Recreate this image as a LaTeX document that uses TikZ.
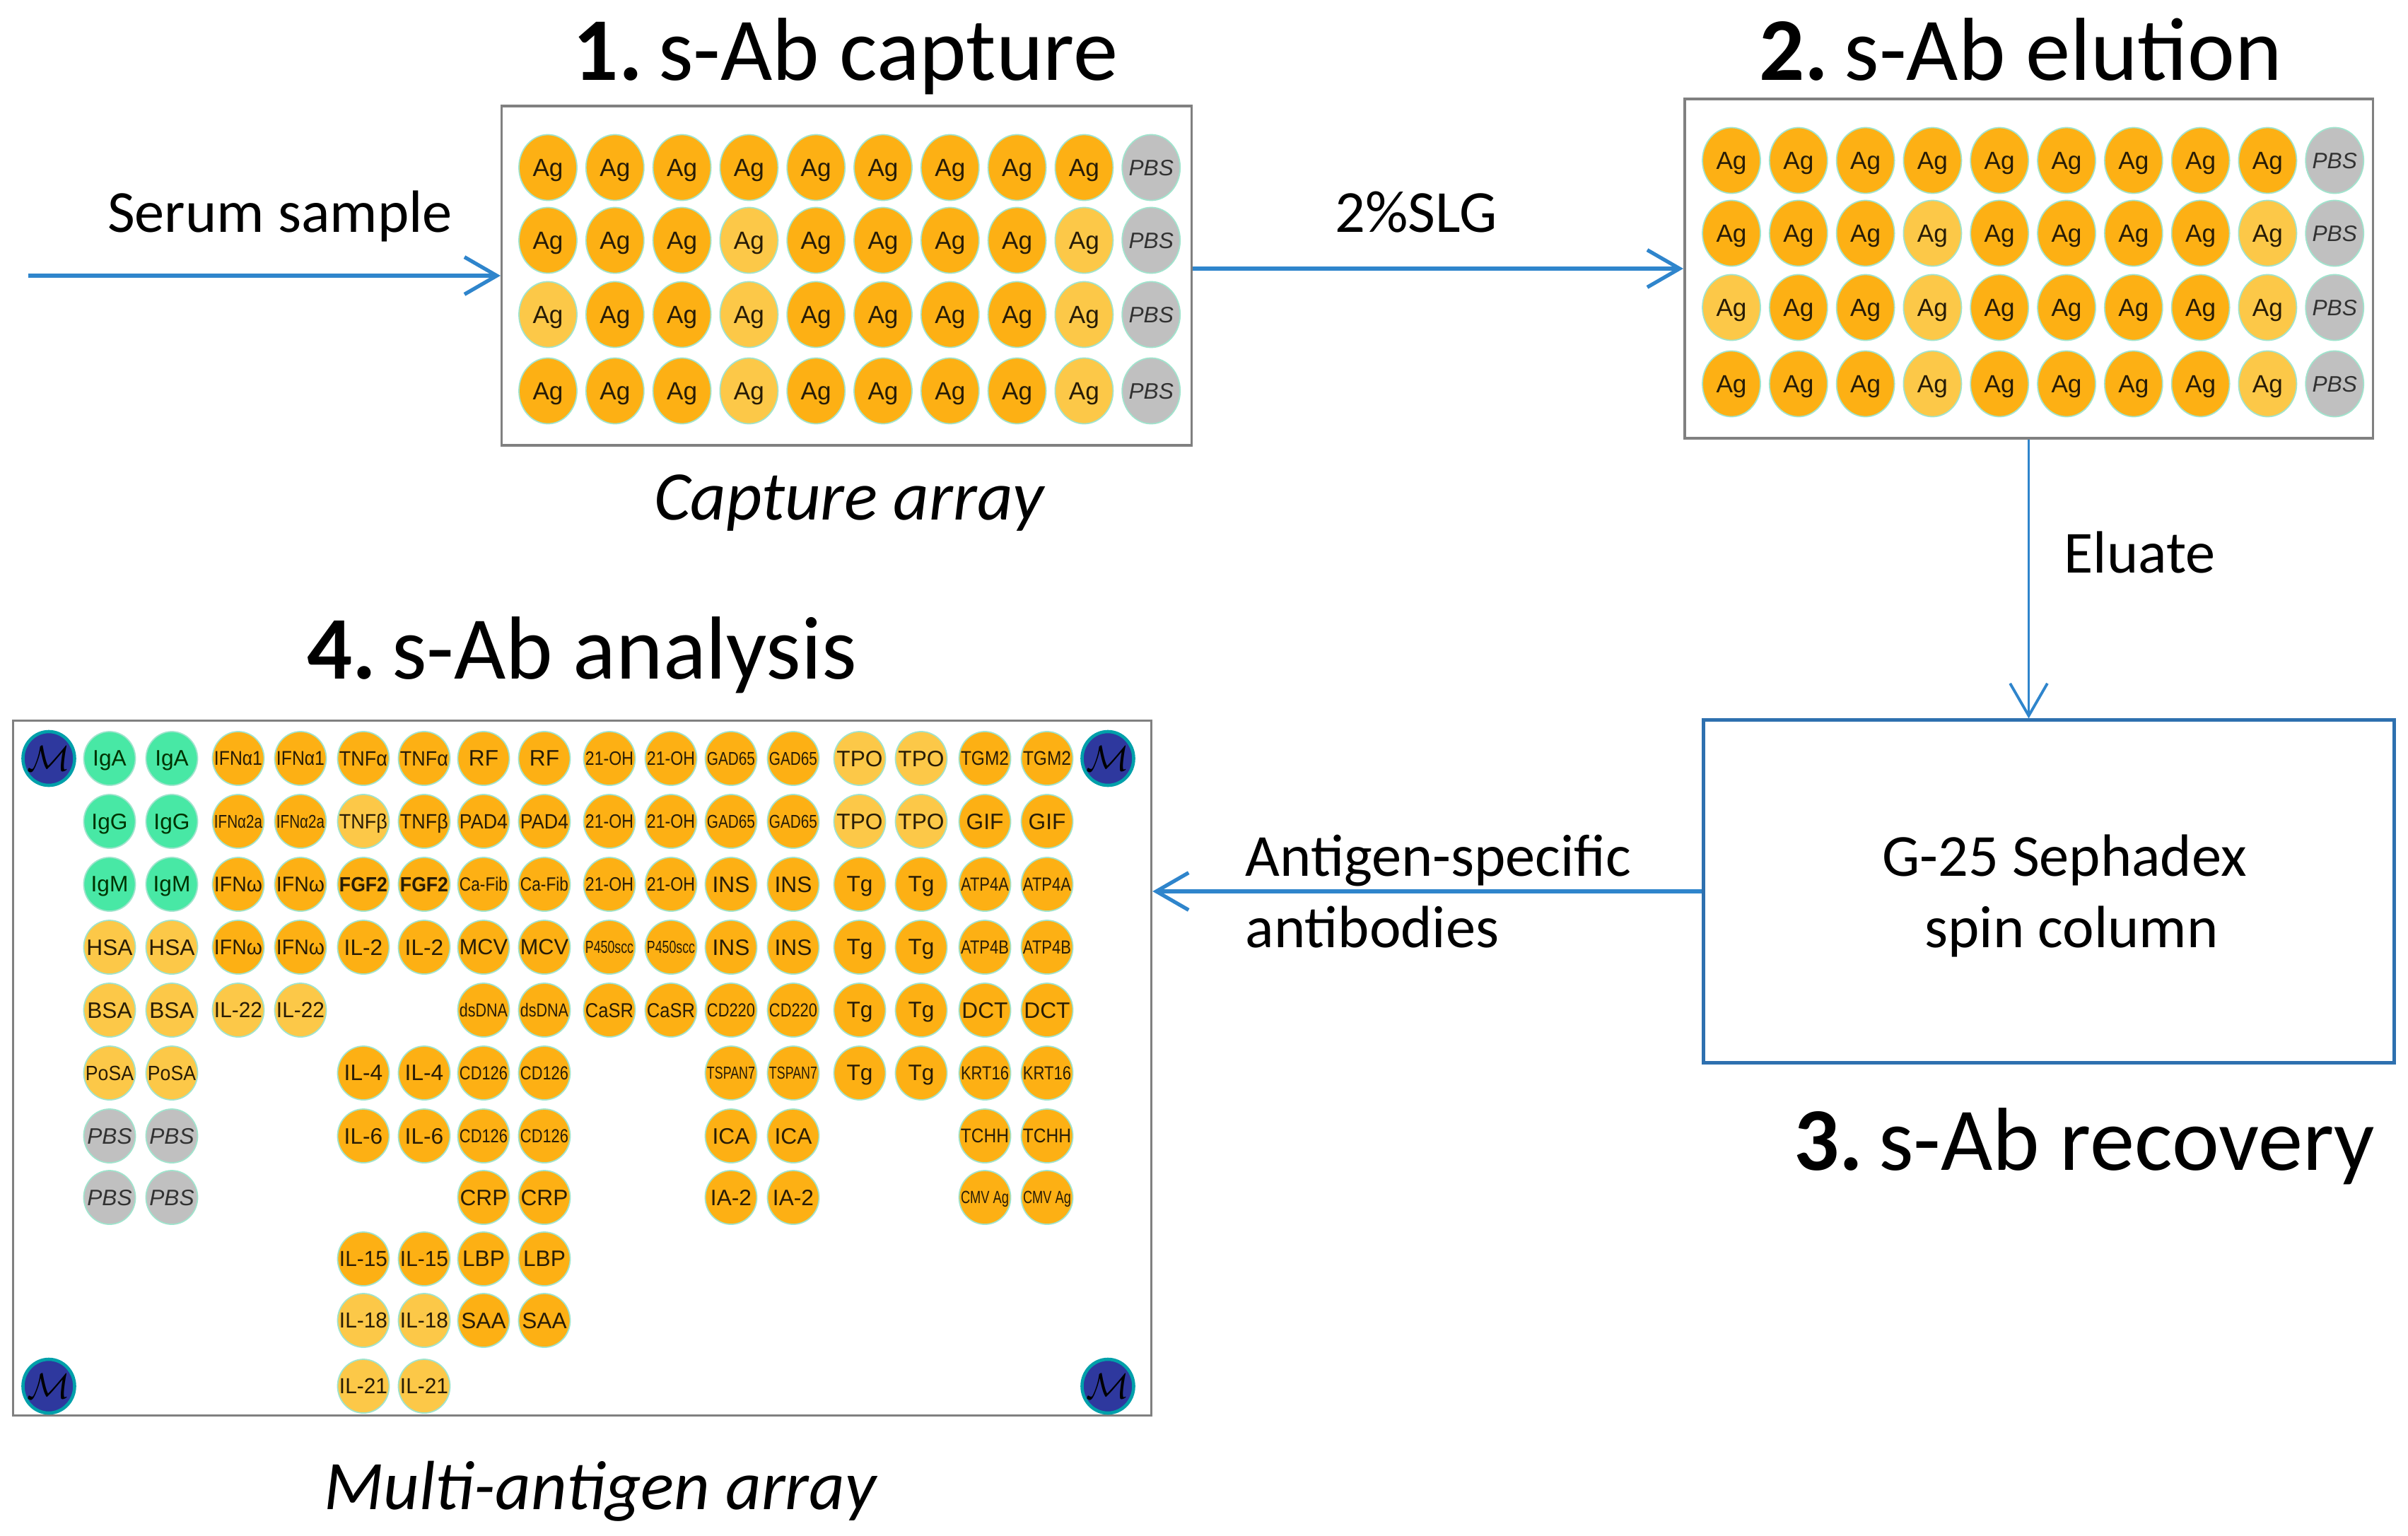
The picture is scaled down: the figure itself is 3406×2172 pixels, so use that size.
\documentclass[tikz,border=0pt]{standalone}
\usepackage{fontspec}
\setmainfont{Carlito}
\newfontfamily\arialf{Liberation Sans}
\usepackage{graphicx}
\usetikzlibrary{shapes.geometric,arrows.meta}

\definecolor{agdark}{RGB}{253,176,20}
\definecolor{aglight}{RGB}{252,200,72}
\definecolor{pbsgray}{RGB}{192,192,192}
\definecolor{igmint}{RGB}{72,232,165}
\definecolor{mblue}{RGB}{46,56,158}
\definecolor{mring}{RGB}{0,160,170}
\definecolor{rimc}{RGB}{160,228,205}
\definecolor{flowblue}{RGB}{47,133,204}
\definecolor{boxblue}{RGB}{46,112,175}
\definecolor{boxgray}{RGB}{128,128,128}
\definecolor{labtxt}{RGB}{40,28,6}
\definecolor{pbstxt}{RGB}{50,50,50}

\newsavebox\labbox
\newlength\labmax \setlength\labmax{0.68cm}
\newlength\labw
\newcommand\fitlab[1]{\sbox\labbox{#1}%
  \ifdim\wd\labbox>\labmax
    \setlength\labw{\wd\labbox}%
    \pgfmathsetmacro\fitrx{\labmax/\labw}%
    \pgfmathsetmacro\fitry{(1+\fitrx)/2}%
    \scalebox{\fitrx}[\fitry]{\usebox\labbox}%
  \else\usebox\labbox\fi}
\newcommand\cen[1]{\makebox[0pt]{\raisebox{-0.5\height}[0pt][0pt]{#1}}}

\def\caplabd{Ag}
\def\caplabl{Ag}
\def\caplabp{PBS}
\def\mcol{{69,155,243,337,425,514,600,684,770,862,949,1034,1122,1216,1303,1393,1481,1567}}
\def\mrow{{1073,1162,1251,1340,1429,1518,1607,1694,1781,1868,1961}}

\newcommand\caprow[3]{%
  \foreach \s [count=\c from 0] in {#3} {%
    \node[cs-\s] (cap-#1-\c) at ({775+94.8*\c},#2) {\cen{\csname caplab\s\endcsname}};
    \node[cs-\s] (elu-#1-\c) at ({2449+94.8*\c},{#2-10}) {\cen{\csname caplab\s\endcsname}};
  }}
\newcommand\mrowspots[2]{%
  \foreach \c/\s/\lab in {#2} {%
    \node[ms-\s] (m-#1-\c) at ({\mcol[\c]},{\mrow[#1]}) {\cen{\fitlab{\lab}}};
  }}

\begin{document}
\begin{tikzpicture}[x=0.01cm,y=-0.01cm,
  capspot/.style={ellipse, minimum width=0.82cm, minimum height=0.93cm, inner sep=0pt,
    draw=rimc, line width=0.5pt, text=labtxt, font=\arialf\fontsize{10}{11}\selectfont},
  cs-d/.style={capspot, fill=agdark},
  cs-l/.style={capspot, fill=aglight},
  cs-p/.style={capspot, fill=pbsgray, text=pbstxt, font=\arialf\itshape\fontsize{9}{10}\selectfont},
  multispot/.style={ellipse, minimum width=0.73cm, minimum height=0.76cm, inner sep=0pt,
    draw=rimc, line width=0.5pt, text=labtxt, font=\arialf\fontsize{9}{10}\selectfont},
  ms-d/.style={multispot, fill=agdark},
  ms-l/.style={multispot, fill=aglight},
  ms-g/.style={multispot, fill=igmint, text={black!80!green}},
  ms-p/.style={multispot, fill=pbsgray, text=pbstxt, font=\arialf\itshape\fontsize{9}{10}\selectfont},
  ms-m/.style={multispot, fill=mblue, draw=mring, line width=1.3pt, text=black, font=\fontsize{15}{15}\selectfont},
  arraybox/.style={draw=boxgray, line width=1pt, fill=white, inner sep=0pt},
  recbox/.style={draw=boxblue, line width=1.4pt, inner sep=0pt},
  title/.style={font=\fontsize{36}{43}\selectfont, anchor=base, inner sep=0pt},
  lbl/.style={font=\fontsize{24}{29}\selectfont, inner sep=0pt},
  caption/.style={font=\itshape\fontsize{28}{34}\selectfont, anchor=base, inner sep=0pt},
  flow/.style={draw=flowblue, line width=1.5pt, -{Straight Barb[length=13pt,width=15pt]}},
  thinflow/.style={flow, line width=1.1pt}
]
\useasboundingbox (0,0) rectangle (3406,2172);

% boxes
\node[arraybox, minimum width=9.75cm, minimum height=4.8cm] (capbox) at (1197.5,390) {};
\node[arraybox, minimum width=9.73cm, minimum height=4.8cm] (elubox) at (2869.5,380) {};
\node[recbox, minimum width=9.76cm, minimum height=4.84cm] (recbox) at (2898,1261) {};
\node[arraybox, minimum width=16.09cm, minimum height=9.82cm] (multibox) at (823.5,1511) {};

% titles
\node[title] (t1) at (1196,113) {\textbf{1.}\kern-0.05em\ s-Ab capture};
\node[title] (t2) at (2858,113) {\textbf{2.}\kern-0.05em\ s-Ab elution};
\node[title] (t3) at (2948,1655) {\textbf{3.}\kern-0.05em\ s-Ab recovery};
\node[title] (t4) at (823,960) {\textbf{4.}\kern-0.05em\ s-Ab analysis};

% labels
\node[lbl, anchor=base] (serum) at (396,328) {Serum sample};
\node[lbl, anchor=base] (slg) at (2003,328) {2\%SLG};
\node[lbl, anchor=base west] (elu) at (2919,810) {Eluate};
\node[lbl, anchor=base west] (ags) at (1761,1239) {Antigen-specific};
\node[lbl, anchor=base west] (abd) at (1761,1340) {antibodies};
\node[lbl, anchor=base] (g25) at (2920,1239) {G-25 Sephadex};
\node[lbl, anchor=base] (spin) at (2930,1340) {spin column};
\node[caption] (capcap) at (1201,735) {Capture array};
\node[caption] (multicap) at (849,2135) {Multi-antigen array};

% arrows
\coordinate (serumstart) at (40,390);
\draw[flow] (serumstart) -- (capbox.west);
\draw[flow] (capbox.east |- elubox.west) -- (elubox.west);
\draw[thinflow] (elubox.south) -- (elubox.south |- recbox.north);
\draw[flow] (recbox.west) -- (recbox.west -| multibox.east);

% capture and elution arrays
\caprow{0}{237}{d,d,d,d,d,d,d,d,d,p}
\caprow{1}{340}{d,d,d,l,d,d,d,d,l,p}
\caprow{2}{445}{l,d,d,l,d,d,d,d,l,p}
\caprow{3}{553}{d,d,d,l,d,d,d,d,l,p}

% multi-antigen array
\node[ms-m] (mk-tl) at ({\mcol[0]},{\mrow[0]}) {\cen{$\mathcal{M}$}};
\node[ms-m] (mk-tr) at ({\mcol[17]},{\mrow[0]}) {\cen{$\mathcal{M}$}};
\node[ms-m] (mk-bl) at ({\mcol[0]},{\mrow[10]}) {\cen{$\mathcal{M}$}};
\node[ms-m] (mk-br) at ({\mcol[17]},{\mrow[10]}) {\cen{$\mathcal{M}$}};

\mrowspots{0}{1/g/IgA,2/g/IgA,3/d/IFNα1,4/d/IFNα1,5/d/TNFα,6/d/TNFα,7/d/RF,8/d/RF,9/d/21-OH,10/d/21-OH,11/d/GAD65,12/d/GAD65,13/l/TPO,14/l/TPO,15/d/TGM2,16/d/TGM2}
\mrowspots{1}{1/g/IgG,2/g/IgG,3/d/IFNα2a,4/d/IFNα2a,5/l/TNFβ,6/d/TNFβ,7/d/PAD4,8/d/PAD4,9/d/21-OH,10/d/21-OH,11/d/GAD65,12/d/GAD65,13/l/TPO,14/l/TPO,15/d/GIF,16/d/GIF}
\mrowspots{2}{1/g/IgM,2/g/IgM,3/d/IFNω,4/d/IFNω,5/d/\textbf{FGF2},6/d/\textbf{FGF2},7/d/Ca-Fib,8/d/Ca-Fib,9/d/21-OH,10/d/21-OH,11/d/INS,12/d/INS,13/d/Tg,14/d/Tg,15/d/ATP4A,16/d/ATP4A}
\mrowspots{3}{1/l/HSA,2/l/HSA,3/d/IFNω,4/d/IFNω,5/d/IL-2,6/d/IL-2,7/d/MCV,8/d/MCV,9/d/P450scc,10/d/P450scc,11/d/INS,12/d/INS,13/d/Tg,14/d/Tg,15/d/ATP4B,16/d/ATP4B}
\mrowspots{4}{1/l/BSA,2/l/BSA,3/l/IL-22,4/l/IL-22,7/d/dsDNA,8/d/dsDNA,9/d/CaSR,10/d/CaSR,11/d/CD220,12/d/CD220,13/d/Tg,14/d/Tg,15/d/DCT,16/d/DCT}
\mrowspots{5}{1/l/PoSA,2/l/PoSA,5/d/IL-4,6/d/IL-4,7/d/CD126,8/d/CD126,11/d/TSPAN7,12/d/TSPAN7,13/d/Tg,14/d/Tg,15/d/KRT16,16/d/KRT16}
\mrowspots{6}{1/p/PBS,2/p/PBS,5/d/IL-6,6/d/IL-6,7/d/CD126,8/d/CD126,11/d/ICA,12/d/ICA,15/d/TCHH,16/d/TCHH}
\mrowspots{7}{1/p/PBS,2/p/PBS,7/d/CRP,8/d/CRP,11/d/IA-2,12/d/IA-2,15/d/CMV Ag,16/d/CMV Ag}
\mrowspots{8}{5/d/IL-15,6/d/IL-15,7/d/LBP,8/d/LBP}
\mrowspots{9}{5/l/IL-18,6/l/IL-18,7/d/SAA,8/d/SAA}
\mrowspots{10}{5/l/IL-21,6/l/IL-21}
\end{tikzpicture}
\end{document}
